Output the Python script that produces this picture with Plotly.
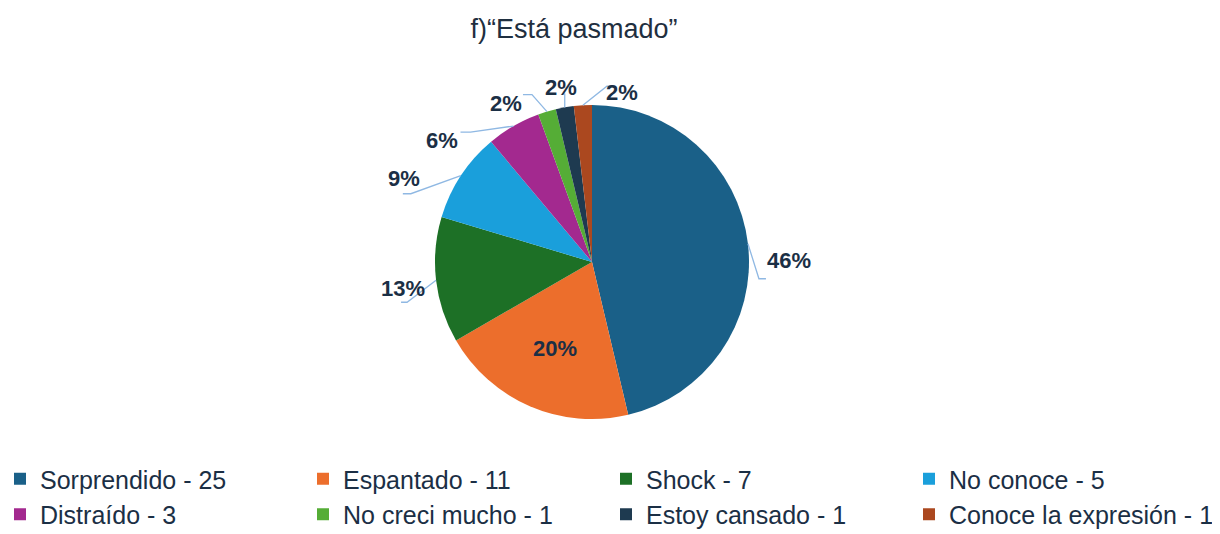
import math
import plotly.graph_objects as go

# ---- data ----
categories = ["Sorprendido", "Espantado", "Shock", "No conoce", "Distraído",
              "No creci mucho", "Estoy cansado", "Conoce la expresión"]
counts = [25, 11, 7, 5, 3, 1, 1, 1]
title_text = "f)“Está pasmado”"

# ---- style ----
colors = ["#1a6088", "#ec6e2c", "#1d7026", "#1a9fdb", "#a3298f",
          "#55ad36", "#1e3a50", "#ab481f"]
W, H = 1220, 534
CX, CY, R = 592, 262, 157          # pie centre / radius in pixels
TEXT_COLOR = "#1b2f45"
LINE_COLOR = "#8fb8e3"
FONT = "Liberation Sans, Arial, sans-serif"

# label placement (pixels): offset of label centre from slice edge point,
# leader-line elbow relative to label centre, and horizontal tail length
label_style = [
    dict(pos="out", off=(41, 17), elbow=(-30, 18), tail=7),
    dict(pos="in"),
    dict(pos="out", off=(-57, 8), elbow=(28, 14), tail=-6),
    dict(pos="out", off=(-75, 3), elbow=(25, 15), tail=-8),
    dict(pos="out", off=(-71, 0), elbow=(28, 6), tail=-10),
    dict(pos="out", off=(-41, -23), elbow=(26, 6), tail=-9),
    dict(pos="out", off=(-4, -34), elbow=(4, 20), tail=0),
    dict(pos="out", off=(39, -27), elbow=(-15, 8), tail=6),
]

def px2paper(x, y):
    return x / W, 1 - y / H

total = sum(counts)
legend_labels = [f"{c} - {v}" for c, v in zip(categories, counts)]

fig = go.Figure()
fig.add_trace(go.Pie(
    labels=legend_labels,
    values=counts,
    sort=False,
    direction="clockwise",
    rotation=0,
    marker=dict(colors=colors, line=dict(width=0)),
    textinfo="none",
    hoverinfo="label+percent",
    domain=dict(x=[(CX - R) / W, (CX + R) / W],
                y=[1 - (CY + R) / H, 1 - (CY - R) / H]),
))

annotations = []
shapes = []
cum = 0
for v, st in zip(counts, label_style):
    mid = (cum + v / 2) / total * 2 * math.pi
    cum += v
    pct = f"<b>{round(v / total * 100)}%</b>"
    if st["pos"] == "in":
        r = 0.6 * R
        lx, ly = CX + r * math.sin(mid), CY - r * math.cos(mid)
        x, y = px2paper(lx, ly)
        annotations.append(dict(x=x, y=y, xref="paper", yref="paper", text=pct,
                                showarrow=False, font=dict(size=22, color=TEXT_COLOR, family=FONT)))
        continue
    ex, ey = CX + R * math.sin(mid), CY - R * math.cos(mid)
    lx, ly = ex + st["off"][0], ey + st["off"][1]
    x, y = px2paper(lx, ly)
    annotations.append(dict(x=x, y=y, xref="paper", yref="paper", text=pct,
                            showarrow=False, font=dict(size=22, color=TEXT_COLOR, family=FONT)))
    ax_, ay_ = lx + st["elbow"][0], ly + st["elbow"][1]
    tx, ty = ax_ + st["tail"], ay_
    p0 = px2paper(ex, ey)
    p1 = px2paper(ax_, ay_)
    p2 = px2paper(tx, ty)
    shapes.append(dict(type="path", xref="paper", yref="paper",
                       path=f"M {p0[0]} {p0[1]} L {p1[0]} {p1[1]} L {p2[0]} {p2[1]}",
                       line=dict(color=LINE_COLOR, width=1.3)))

fig.update_layout(
    width=W, height=H,
    margin=dict(l=0, r=0, t=0, b=0, autoexpand=False),
    paper_bgcolor="white",
    plot_bgcolor="white",
    font=dict(family=FONT, color=TEXT_COLOR),
    title=dict(text=title_text, x=574 / W, xanchor="center",
               y=1 - 29 / H, yanchor="middle", yref="paper",
               font=dict(size=27, color="#1f2f40", family=FONT)),
    showlegend=True,
    legend=dict(orientation="h", x=0, xanchor="left",
                y=1 - 456 / H, yanchor="top",
                font=dict(size=25, color=TEXT_COLOR, family=FONT),
                entrywidth=258, entrywidthmode="pixels",
                itemwidth=30, bgcolor="rgba(0,0,0,0)"),
    annotations=annotations,
    shapes=shapes,
)

fig.write_html("out.html",
               config={"displayModeBar": False},
               post_script="document.body.style.margin='0';document.body.style.overflow='hidden';")
